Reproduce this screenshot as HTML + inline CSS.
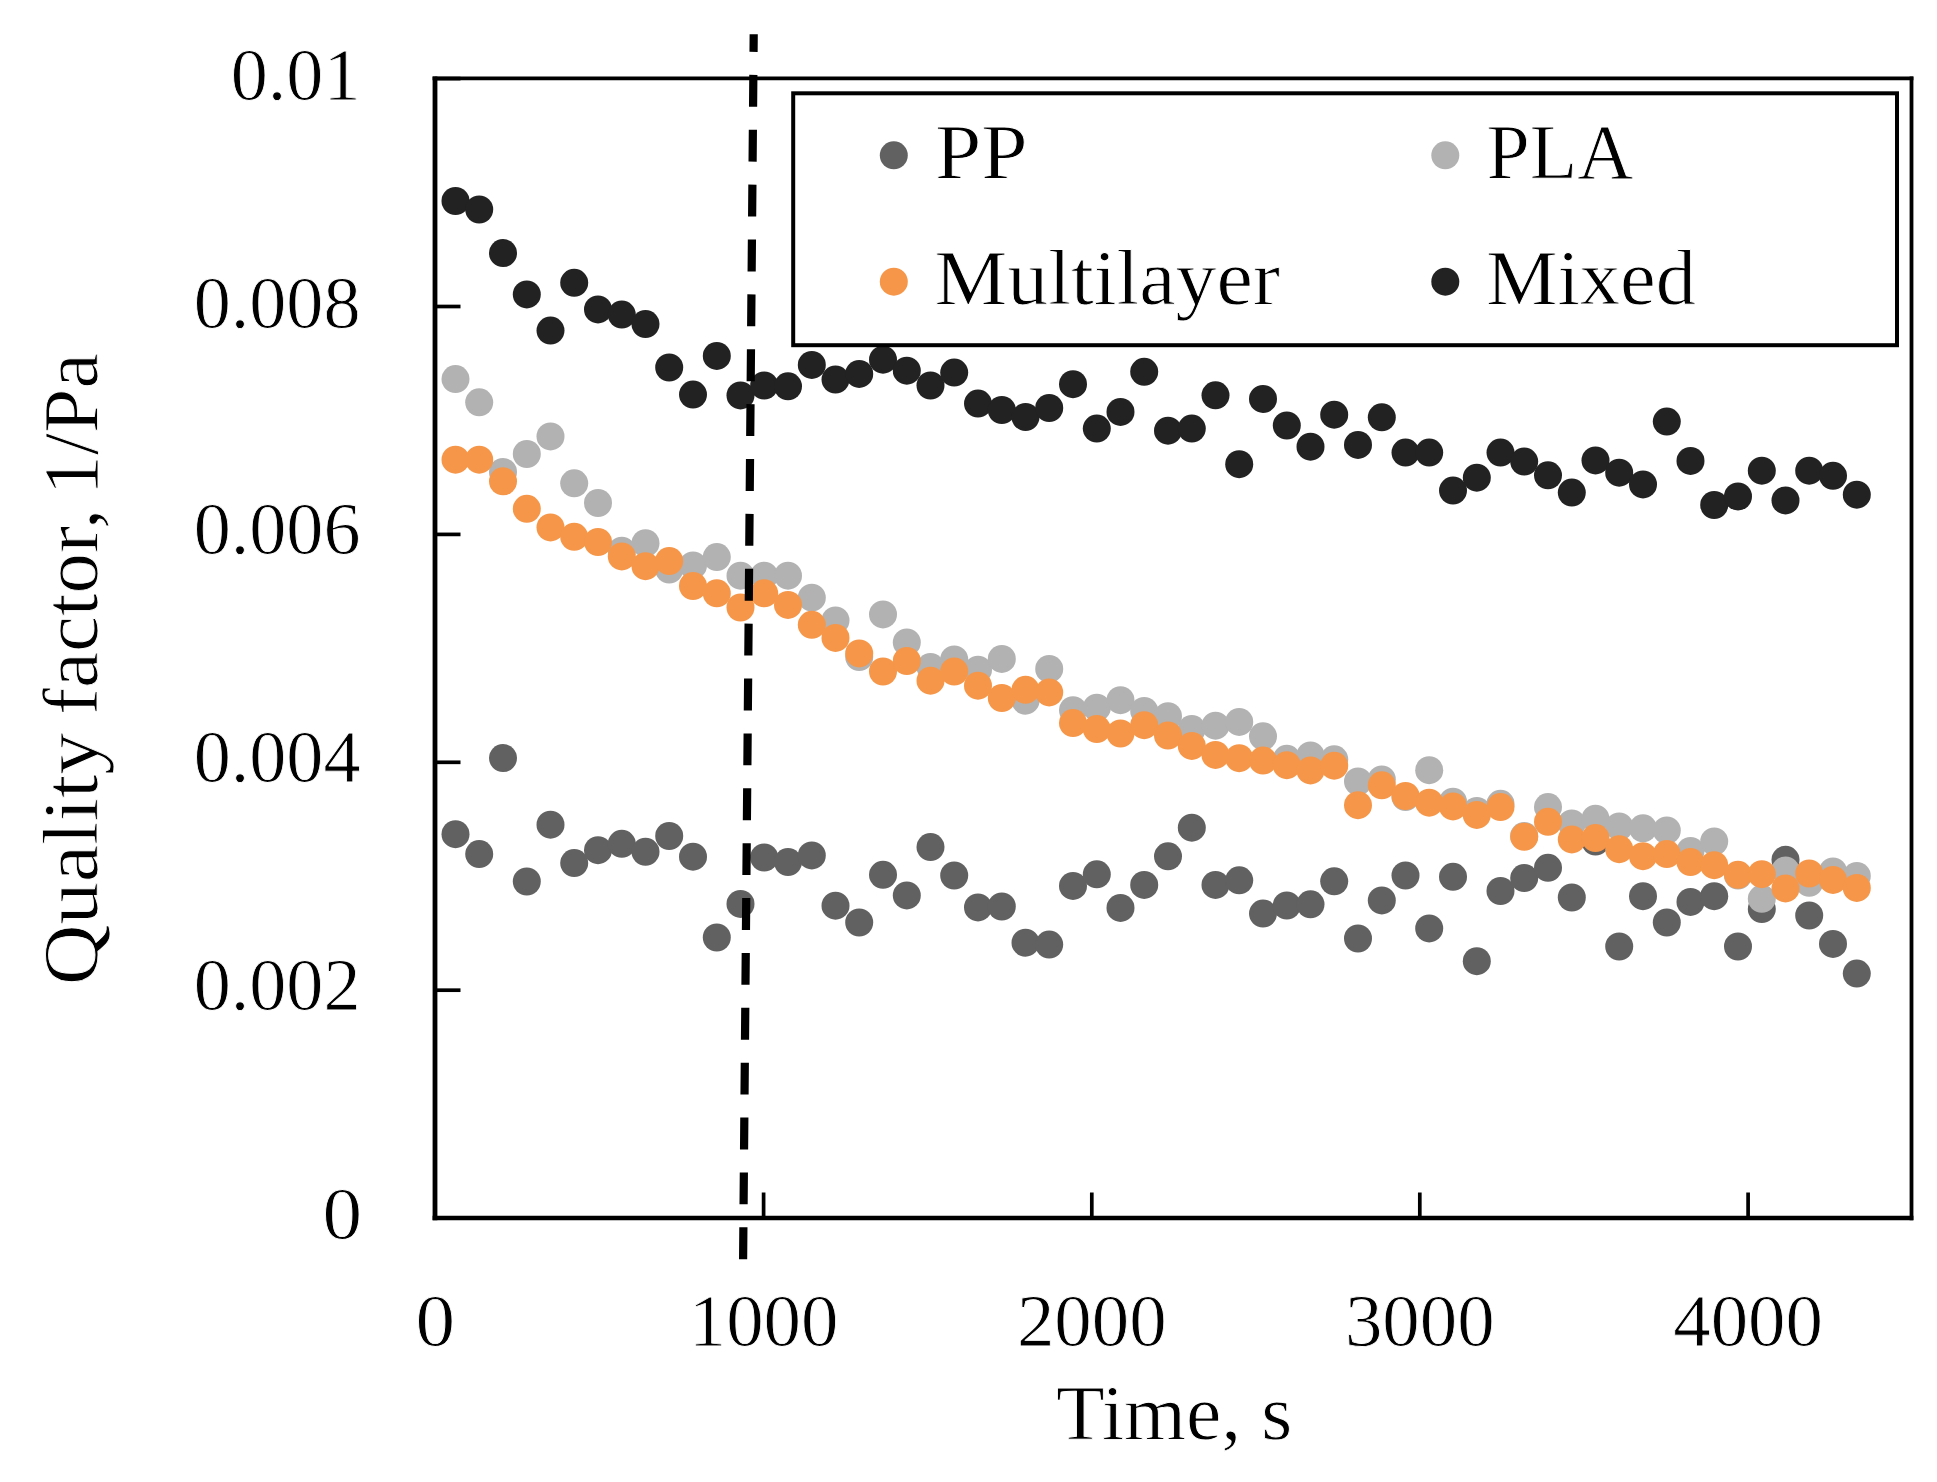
<!DOCTYPE html>
<html lang="en"><head><meta charset="utf-8"><title>Quality factor vs time</title>
<style>html,body{margin:0;padding:0;background:#fff}body{width:1937px;height:1482px;overflow:hidden}</style></head>
<body>
<svg width="1937" height="1482" viewBox="0 0 1937 1482" style="display:block">
<rect width="1937" height="1482" fill="#fff"/>
<g fill="#616161"><circle cx="455.5" cy="834.2" r="14.0"/><circle cx="479.2" cy="854.1" r="14.0"/><circle cx="503.0" cy="758.1" r="14.0"/><circle cx="526.8" cy="881.5" r="14.0"/><circle cx="550.5" cy="824.7" r="14.0"/><circle cx="574.2" cy="863.1" r="14.0"/><circle cx="598.0" cy="850.2" r="14.0"/><circle cx="621.8" cy="843.8" r="14.0"/><circle cx="645.5" cy="851.8" r="14.0"/><circle cx="669.2" cy="836.0" r="14.0"/><circle cx="693.0" cy="856.7" r="14.0"/><circle cx="716.8" cy="937.5" r="14.0"/><circle cx="740.5" cy="903.9" r="14.0"/><circle cx="764.2" cy="857.5" r="14.0"/><circle cx="788.0" cy="862.1" r="14.0"/><circle cx="811.8" cy="855.4" r="14.0"/><circle cx="835.5" cy="905.7" r="14.0"/><circle cx="859.2" cy="922.5" r="14.0"/><circle cx="883.0" cy="874.8" r="14.0"/><circle cx="906.8" cy="895.4" r="14.0"/><circle cx="930.5" cy="847.1" r="14.0"/><circle cx="954.2" cy="875.5" r="14.0"/><circle cx="978.0" cy="907.4" r="14.0"/><circle cx="1001.8" cy="906.5" r="14.0"/><circle cx="1025.5" cy="942.7" r="14.0"/><circle cx="1049.2" cy="944.6" r="14.0"/><circle cx="1073.0" cy="885.9" r="14.0"/><circle cx="1096.8" cy="874.3" r="14.0"/><circle cx="1120.5" cy="907.9" r="14.0"/><circle cx="1144.2" cy="884.9" r="14.0"/><circle cx="1168.0" cy="856.3" r="14.0"/><circle cx="1191.8" cy="827.7" r="14.0"/><circle cx="1215.5" cy="884.9" r="14.0"/><circle cx="1239.2" cy="880.3" r="14.0"/><circle cx="1263.0" cy="913.6" r="14.0"/><circle cx="1286.8" cy="905.5" r="14.0"/><circle cx="1310.5" cy="904.3" r="14.0"/><circle cx="1334.2" cy="881.3" r="14.0"/><circle cx="1358.0" cy="938.5" r="14.0"/><circle cx="1381.8" cy="900.4" r="14.0"/><circle cx="1405.5" cy="875.5" r="14.0"/><circle cx="1429.2" cy="928.4" r="14.0"/><circle cx="1453.0" cy="876.8" r="14.0"/><circle cx="1476.8" cy="961.2" r="14.0"/><circle cx="1500.5" cy="891.0" r="14.0"/><circle cx="1524.2" cy="878.1" r="14.0"/><circle cx="1548.0" cy="867.8" r="14.0"/><circle cx="1571.8" cy="897.5" r="14.0"/><circle cx="1595.5" cy="841.5" r="14.0"/><circle cx="1619.2" cy="946.5" r="14.0"/><circle cx="1643.0" cy="896.2" r="14.0"/><circle cx="1666.8" cy="922.5" r="14.0"/><circle cx="1690.5" cy="901.9" r="14.0"/><circle cx="1714.2" cy="896.2" r="14.0"/><circle cx="1738.0" cy="946.5" r="14.0"/><circle cx="1761.8" cy="909.1" r="14.0"/><circle cx="1785.5" cy="859.8" r="14.0"/><circle cx="1809.2" cy="915.5" r="14.0"/><circle cx="1833.0" cy="943.9" r="14.0"/><circle cx="1856.8" cy="973.6" r="14.0"/></g>
<g fill="#b2b2b2"><circle cx="455.5" cy="379.1" r="14.0"/><circle cx="479.2" cy="402.3" r="14.0"/><circle cx="503.0" cy="472.0" r="14.0"/><circle cx="526.8" cy="454.0" r="14.0"/><circle cx="550.5" cy="436.4" r="14.0"/><circle cx="574.2" cy="483.3" r="14.0"/><circle cx="598.0" cy="503.0" r="14.0"/><circle cx="621.8" cy="550.7" r="14.0"/><circle cx="645.5" cy="543.2" r="14.0"/><circle cx="669.2" cy="569.5" r="14.0"/><circle cx="693.0" cy="565.4" r="14.0"/><circle cx="716.8" cy="557.1" r="14.0"/><circle cx="740.5" cy="575.7" r="14.0"/><circle cx="764.2" cy="575.7" r="14.0"/><circle cx="788.0" cy="575.7" r="14.0"/><circle cx="811.8" cy="597.7" r="14.0"/><circle cx="835.5" cy="620.4" r="14.0"/><circle cx="859.2" cy="657.0" r="14.0"/><circle cx="883.0" cy="614.4" r="14.0"/><circle cx="906.8" cy="642.4" r="14.0"/><circle cx="930.5" cy="667.1" r="14.0"/><circle cx="954.2" cy="659.4" r="14.0"/><circle cx="978.0" cy="669.7" r="14.0"/><circle cx="1001.8" cy="658.9" r="14.0"/><circle cx="1025.5" cy="700.7" r="14.0"/><circle cx="1049.2" cy="668.9" r="14.0"/><circle cx="1073.0" cy="710.2" r="14.0"/><circle cx="1096.8" cy="707.7" r="14.0"/><circle cx="1120.5" cy="700.2" r="14.0"/><circle cx="1144.2" cy="711.0" r="14.0"/><circle cx="1168.0" cy="716.2" r="14.0"/><circle cx="1191.8" cy="729.1" r="14.0"/><circle cx="1215.5" cy="725.7" r="14.0"/><circle cx="1239.2" cy="721.9" r="14.0"/><circle cx="1263.0" cy="736.3" r="14.0"/><circle cx="1286.8" cy="758.8" r="14.0"/><circle cx="1310.5" cy="755.4" r="14.0"/><circle cx="1334.2" cy="759.3" r="14.0"/><circle cx="1358.0" cy="781.5" r="14.0"/><circle cx="1381.8" cy="779.5" r="14.0"/><circle cx="1405.5" cy="797.0" r="14.0"/><circle cx="1429.2" cy="770.2" r="14.0"/><circle cx="1453.0" cy="801.7" r="14.0"/><circle cx="1476.8" cy="811.0" r="14.0"/><circle cx="1500.5" cy="803.8" r="14.0"/><circle cx="1524.2" cy="836.0" r="14.0"/><circle cx="1548.0" cy="807.1" r="14.0"/><circle cx="1571.8" cy="823.4" r="14.0"/><circle cx="1595.5" cy="818.7" r="14.0"/><circle cx="1619.2" cy="826.5" r="14.0"/><circle cx="1643.0" cy="828.3" r="14.0"/><circle cx="1666.8" cy="830.4" r="14.0"/><circle cx="1690.5" cy="851.0" r="14.0"/><circle cx="1714.2" cy="841.5" r="14.0"/><circle cx="1738.0" cy="875.5" r="14.0"/><circle cx="1761.8" cy="898.8" r="14.0"/><circle cx="1785.5" cy="870.4" r="14.0"/><circle cx="1809.2" cy="882.8" r="14.0"/><circle cx="1833.0" cy="871.4" r="14.0"/><circle cx="1856.8" cy="876.0" r="14.0"/></g>
<g fill="#f69648"><circle cx="455.5" cy="459.7" r="14.0"/><circle cx="479.2" cy="459.7" r="14.0"/><circle cx="503.0" cy="481.3" r="14.0"/><circle cx="526.8" cy="508.8" r="14.0"/><circle cx="550.5" cy="527.4" r="14.0"/><circle cx="574.2" cy="536.8" r="14.0"/><circle cx="598.0" cy="542.0" r="14.0"/><circle cx="621.8" cy="556.4" r="14.0"/><circle cx="645.5" cy="566.2" r="14.0"/><circle cx="669.2" cy="561.0" r="14.0"/><circle cx="693.0" cy="586.0" r="14.0"/><circle cx="716.8" cy="593.3" r="14.0"/><circle cx="740.5" cy="607.5" r="14.0"/><circle cx="764.2" cy="593.3" r="14.0"/><circle cx="788.0" cy="604.9" r="14.0"/><circle cx="811.8" cy="624.8" r="14.0"/><circle cx="835.5" cy="637.9" r="14.0"/><circle cx="859.2" cy="653.4" r="14.0"/><circle cx="883.0" cy="671.5" r="14.0"/><circle cx="906.8" cy="661.0" r="14.0"/><circle cx="930.5" cy="680.7" r="14.0"/><circle cx="954.2" cy="671.5" r="14.0"/><circle cx="978.0" cy="685.7" r="14.0"/><circle cx="1001.8" cy="698.1" r="14.0"/><circle cx="1025.5" cy="689.8" r="14.0"/><circle cx="1049.2" cy="692.4" r="14.0"/><circle cx="1073.0" cy="723.1" r="14.0"/><circle cx="1096.8" cy="729.1" r="14.0"/><circle cx="1120.5" cy="733.5" r="14.0"/><circle cx="1144.2" cy="725.2" r="14.0"/><circle cx="1168.0" cy="735.5" r="14.0"/><circle cx="1191.8" cy="745.9" r="14.0"/><circle cx="1215.5" cy="754.9" r="14.0"/><circle cx="1239.2" cy="758.2" r="14.0"/><circle cx="1263.0" cy="760.6" r="14.0"/><circle cx="1286.8" cy="765.2" r="14.0"/><circle cx="1310.5" cy="770.4" r="14.0"/><circle cx="1334.2" cy="765.7" r="14.0"/><circle cx="1358.0" cy="805.2" r="14.0"/><circle cx="1381.8" cy="785.3" r="14.0"/><circle cx="1405.5" cy="796.0" r="14.0"/><circle cx="1429.2" cy="802.7" r="14.0"/><circle cx="1453.0" cy="806.4" r="14.0"/><circle cx="1476.8" cy="814.9" r="14.0"/><circle cx="1500.5" cy="807.1" r="14.0"/><circle cx="1524.2" cy="836.8" r="14.0"/><circle cx="1548.0" cy="821.8" r="14.0"/><circle cx="1571.8" cy="839.4" r="14.0"/><circle cx="1595.5" cy="838.1" r="14.0"/><circle cx="1619.2" cy="849.2" r="14.0"/><circle cx="1643.0" cy="856.2" r="14.0"/><circle cx="1666.8" cy="854.1" r="14.0"/><circle cx="1690.5" cy="862.1" r="14.0"/><circle cx="1714.2" cy="865.2" r="14.0"/><circle cx="1738.0" cy="874.8" r="14.0"/><circle cx="1761.8" cy="874.2" r="14.0"/><circle cx="1785.5" cy="888.4" r="14.0"/><circle cx="1809.2" cy="873.5" r="14.0"/><circle cx="1833.0" cy="879.9" r="14.0"/><circle cx="1856.8" cy="887.9" r="14.0"/></g>
<g fill="#222222"><circle cx="455.5" cy="201.0" r="14.0"/><circle cx="479.2" cy="209.5" r="14.0"/><circle cx="503.0" cy="253.1" r="14.0"/><circle cx="526.8" cy="294.4" r="14.0"/><circle cx="550.5" cy="330.6" r="14.0"/><circle cx="574.2" cy="282.8" r="14.0"/><circle cx="598.0" cy="309.4" r="14.0"/><circle cx="621.8" cy="314.6" r="14.0"/><circle cx="645.5" cy="324.1" r="14.0"/><circle cx="669.2" cy="367.5" r="14.0"/><circle cx="693.0" cy="394.6" r="14.0"/><circle cx="716.8" cy="355.9" r="14.0"/><circle cx="740.5" cy="395.4" r="14.0"/><circle cx="764.2" cy="385.5" r="14.0"/><circle cx="788.0" cy="386.3" r="14.0"/><circle cx="811.8" cy="364.9" r="14.0"/><circle cx="835.5" cy="379.6" r="14.0"/><circle cx="859.2" cy="373.9" r="14.0"/><circle cx="883.0" cy="359.7" r="14.0"/><circle cx="906.8" cy="370.7" r="14.0"/><circle cx="930.5" cy="385.5" r="14.0"/><circle cx="954.2" cy="372.6" r="14.0"/><circle cx="978.0" cy="403.6" r="14.0"/><circle cx="1001.8" cy="410.0" r="14.0"/><circle cx="1025.5" cy="417.0" r="14.0"/><circle cx="1049.2" cy="408.0" r="14.0"/><circle cx="1073.0" cy="384.2" r="14.0"/><circle cx="1096.8" cy="428.6" r="14.0"/><circle cx="1120.5" cy="411.9" r="14.0"/><circle cx="1144.2" cy="371.8" r="14.0"/><circle cx="1168.0" cy="430.7" r="14.0"/><circle cx="1191.8" cy="428.6" r="14.0"/><circle cx="1215.5" cy="395.3" r="14.0"/><circle cx="1239.2" cy="464.2" r="14.0"/><circle cx="1263.0" cy="398.9" r="14.0"/><circle cx="1286.8" cy="425.5" r="14.0"/><circle cx="1310.5" cy="446.7" r="14.0"/><circle cx="1334.2" cy="414.7" r="14.0"/><circle cx="1358.0" cy="444.9" r="14.0"/><circle cx="1381.8" cy="417.3" r="14.0"/><circle cx="1405.5" cy="452.6" r="14.0"/><circle cx="1429.2" cy="452.6" r="14.0"/><circle cx="1453.0" cy="490.6" r="14.0"/><circle cx="1476.8" cy="477.7" r="14.0"/><circle cx="1500.5" cy="452.6" r="14.0"/><circle cx="1524.2" cy="461.6" r="14.0"/><circle cx="1548.0" cy="475.3" r="14.0"/><circle cx="1571.8" cy="492.6" r="14.0"/><circle cx="1595.5" cy="460.4" r="14.0"/><circle cx="1619.2" cy="472.7" r="14.0"/><circle cx="1643.0" cy="484.4" r="14.0"/><circle cx="1666.8" cy="421.6" r="14.0"/><circle cx="1690.5" cy="460.9" r="14.0"/><circle cx="1714.2" cy="505.0" r="14.0"/><circle cx="1738.0" cy="496.5" r="14.0"/><circle cx="1761.8" cy="470.7" r="14.0"/><circle cx="1785.5" cy="500.4" r="14.0"/><circle cx="1809.2" cy="470.7" r="14.0"/><circle cx="1833.0" cy="475.8" r="14.0"/><circle cx="1856.8" cy="494.7" r="14.0"/></g>
<g stroke="#000" fill="none" stroke-linecap="butt">
<line stroke-width="4.8" x1="435.0" y1="76.6" x2="435.0" y2="1220.2"/><line stroke-width="4.4" x1="432.6" y1="1218.0" x2="1913.4" y2="1218.0"/><line stroke-width="3.7" x1="432.6" y1="78.4" x2="1913.4" y2="78.4"/><line stroke-width="3.8" x1="1911.5" y1="76.6" x2="1911.5" y2="1220.2"/>
<line stroke-width="3.7" x1="435.0" y1="78.6" x2="460.5" y2="78.6"/><line stroke-width="3.7" x1="435.0" y1="306.5" x2="460.5" y2="306.5"/><line stroke-width="3.7" x1="435.0" y1="534.4" x2="460.5" y2="534.4"/><line stroke-width="3.7" x1="435.0" y1="762.3" x2="460.5" y2="762.3"/><line stroke-width="3.7" x1="435.0" y1="990.2" x2="460.5" y2="990.2"/><line stroke-width="3.7" x1="763.6" y1="1218.0" x2="763.6" y2="1192.5"/><line stroke-width="3.7" x1="1091.8" y1="1218.0" x2="1091.8" y2="1192.5"/><line stroke-width="3.7" x1="1419.8" y1="1218.0" x2="1419.8" y2="1192.5"/><line stroke-width="3.7" x1="1748.1" y1="1218.0" x2="1748.1" y2="1192.5"/></g>
<rect x="793.2" y="93.3" width="1103.8" height="251.9" fill="#fff" stroke="#000" stroke-width="4"/>
<circle cx="893.8" cy="155.3" r="14" fill="#616161"/><circle cx="1445.3" cy="155.3" r="14" fill="#b2b2b2"/><circle cx="893.8" cy="281.7" r="14" fill="#f69648"/><circle cx="1445.3" cy="281.7" r="14" fill="#222222"/>
<line x1="753.7" y1="34.3" x2="743.1" y2="1260" stroke="#000" stroke-width="8.2" stroke-dasharray="31.9 22.98" stroke-dashoffset="14.3"/>
<g font-family="'Liberation Serif', serif" font-size="72" fill="#000" stroke="#fff" stroke-width="0.8" stroke-linejoin="round">
<text transform="translate(360.5,99.9) scale(1.030,1.042)" text-anchor="end">0.01</text>
<text transform="translate(360.5,328.0) scale(1.030,1.042)" text-anchor="end">0.008</text>
<text transform="translate(360.5,554.3) scale(1.030,1.042)" text-anchor="end">0.006</text>
<text transform="translate(360.5,782.3) scale(1.030,1.042)" text-anchor="end">0.004</text>
<text transform="translate(360.5,1010.4) scale(1.030,1.042)" text-anchor="end">0.002</text>
<text transform="translate(362.0,1238.6) scale(1.100,1.042)" text-anchor="end">0</text>
<text transform="translate(435.4,1346.2) scale(1.100,1.042)" text-anchor="middle">0</text>
<text transform="translate(763.6,1346.2) scale(1.040,1.042)" text-anchor="middle">1000</text>
<text transform="translate(1091.8,1346.2) scale(1.040,1.042)" text-anchor="middle">2000</text>
<text transform="translate(1419.8,1346.2) scale(1.040,1.042)" text-anchor="middle">3000</text>
<text transform="translate(1748.1,1346.2) scale(1.040,1.042)" text-anchor="middle">4000</text>
<text transform="translate(935.0,178.4) scale(1.157,1.075)">PP</text>
<text transform="translate(1486.5,178.4) scale(1.080,1.075)">PLA</text>
<text transform="translate(934.5,304.3) scale(1.137,1.075)">Multilayer</text>
<text transform="translate(1486.0,304.3) scale(1.117,1.075)">Mixed</text>
<text transform="translate(1056.0,1438.5) scale(1.107,1.075)">Time, s</text>
<text transform="translate(97,985.2) rotate(-90) scale(1.170,1.075)">Quality</text>
<text transform="translate(97,715.0) rotate(-90) scale(1.127,1.075)">factor,</text>
<text transform="translate(97,495.2) rotate(-90) scale(1.110,1.075)">1/Pa</text>
</g>
</svg>
</body></html>
